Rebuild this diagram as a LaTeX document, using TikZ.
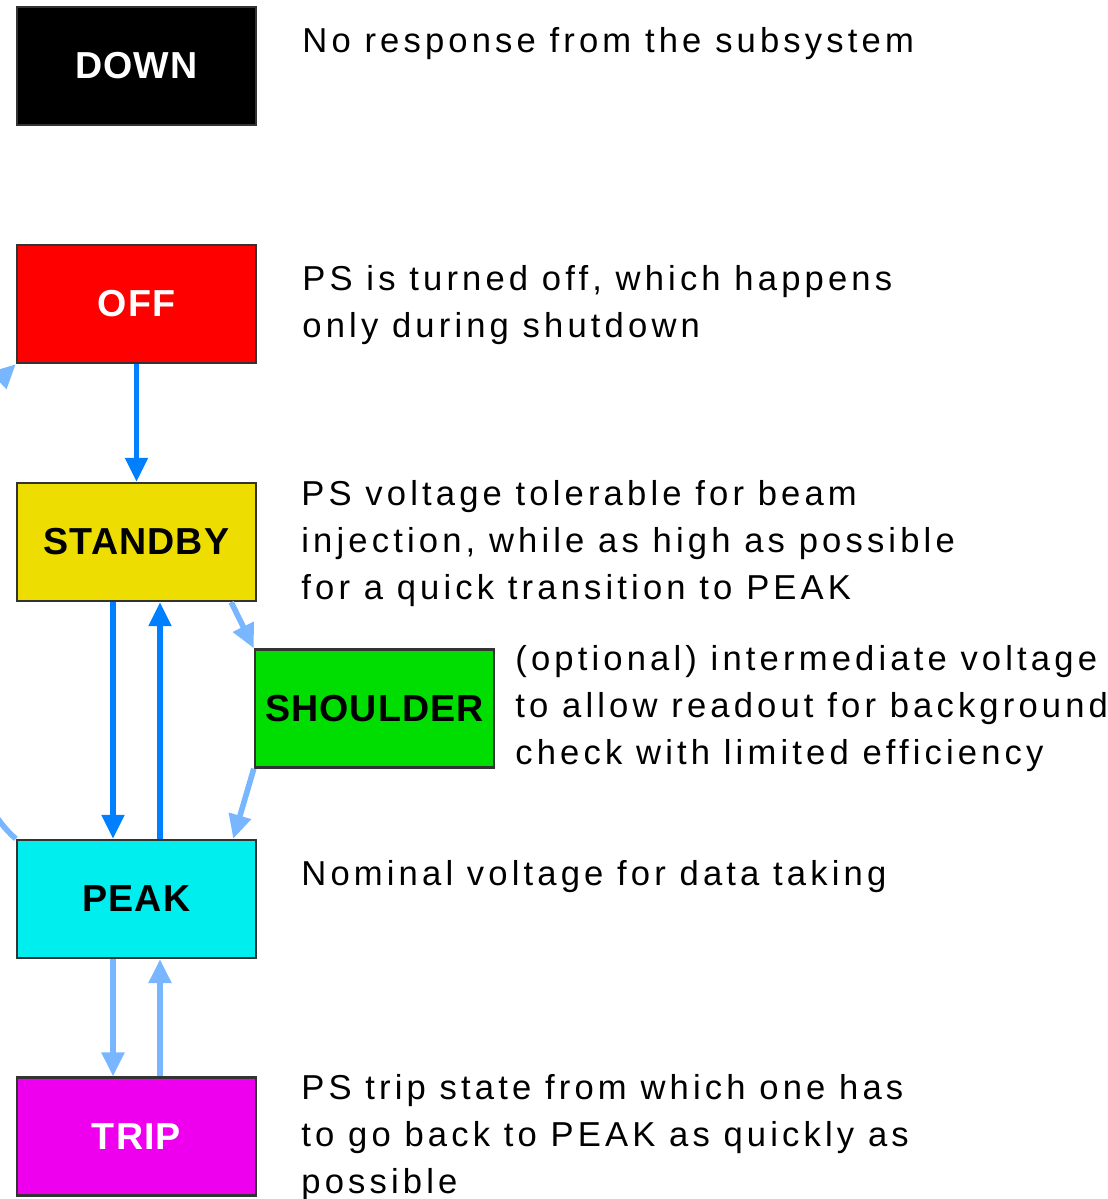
\documentclass[tikz,border=0pt]{standalone}
\usepackage{fontspec}
\setmainfont{Liberation Sans}
\newfontfamily\descfont[LetterSpace=12]{Liberation Sans}
\newfontfamily\statefont[LetterSpace=3]{Liberation Sans Bold}
\usetikzlibrary{arrows.meta,calc}
\definecolor{dnblack}{HTML}{000000}
\definecolor{offred}{HTML}{FF0000}
\definecolor{sbyellow}{HTML}{EEDD00}
\definecolor{shgreen}{HTML}{00DD00}
\definecolor{pkcyan}{HTML}{00EEEE}
\definecolor{trmagenta}{HTML}{EE00EE}
\definecolor{arrblue}{HTML}{0080FF}
\definecolor{arrlight}{RGB}{120,182,255}
\tikzset{
  state/.style={draw=black!80, line width=1.2pt, minimum width=119.5pt, minimum height=59pt,
    inner sep=0pt, font=\statefont\fontsize{18.8}{22}\selectfont},
  desc/.style={anchor=base west, align=left, inner sep=0pt,
    font=\descfont\fontsize{17.3}{23.5}\selectfont},
  mainarrow/.style={draw=arrblue, line width=2.6pt, -{Triangle[width=11pt,length=12pt]}},
  softarrow/.style={draw=arrlight, line width=2.8pt, -{Triangle[width=11pt,length=12pt]}},
}
\begin{document}
\begin{tikzpicture}[x=0.5pt,y=-0.5pt]
\useasboundingbox (0,0) rectangle (1108,1199);
\clip (0,0) rectangle (1108,1199);
\fill[white] (0,0) rectangle (1108,1199);

% state boxes
\node[state, fill=dnblack, text=white] (down) at (136.5,66) {DOWN};
\node[state, fill=offred, text=white] (off) at (136.5,304) {OFF};
\node[state, fill=sbyellow, text=black] (standby) at (136.5,542) {STANDBY};
\node[state, fill=shgreen, text=black] (shoulder) at (374.5,708.5) {SHOULDER};
\node[state, fill=pkcyan, text=black] (peak) at (136.5,899) {PEAK};
\node[state, fill=trmagenta, text=white] (trip) at (136.5,1136.5) {TRIP};

% descriptions (anchored at the baseline of their last line)
\node[desc] (ddown) at (302,52) {No response from the subsystem};
\node[desc] (doff) at (302,337) {PS is turned off, which happens\\only during shutdown};
\node[desc] (dstandby) at (301,599) {PS voltage tolerable for beam\\injection, while as high as possible\\for a quick transition to PEAK};
\node[desc] (dshoulder) at (515,764) {(optional) intermediate voltage\\to allow readout for background\\check with limited efficiency};
\node[desc] (dpeak) at (301,885) {Nominal voltage for data taking};
\node[desc] (dtrip) at (301,1193) {PS trip state from which one has\\to go back to PEAK as quickly as\\possible};

% main transitions
\draw[mainarrow] (off.south) -- (standby.north);
\draw[mainarrow] ($(standby.south)+(-23.5,0)$) -- ($(peak.north)+(-23.5,0)$);
\draw[mainarrow] ($(peak.north)+(23.5,0)$) -- ($(standby.south)+(23.5,0)$);

% secondary transitions
\draw[softarrow] ($(peak.south)+(-23.5,0)$) -- ($(trip.north)+(-23.5,0)$);
\draw[softarrow] ($(trip.north)+(23.5,0)$) -- ($(peak.south)+(23.5,0)$);
\draw[softarrow] ($(standby.south east)+(-26,0)$) -- (shoulder.north west);
\draw[softarrow] (shoulder.south west) -- ($(peak.north east)+(-24,0)$);
\draw[softarrow] (peak.north west) .. controls (-75,760) and (-75,450) .. (off.south west);
\end{tikzpicture}
\end{document}
